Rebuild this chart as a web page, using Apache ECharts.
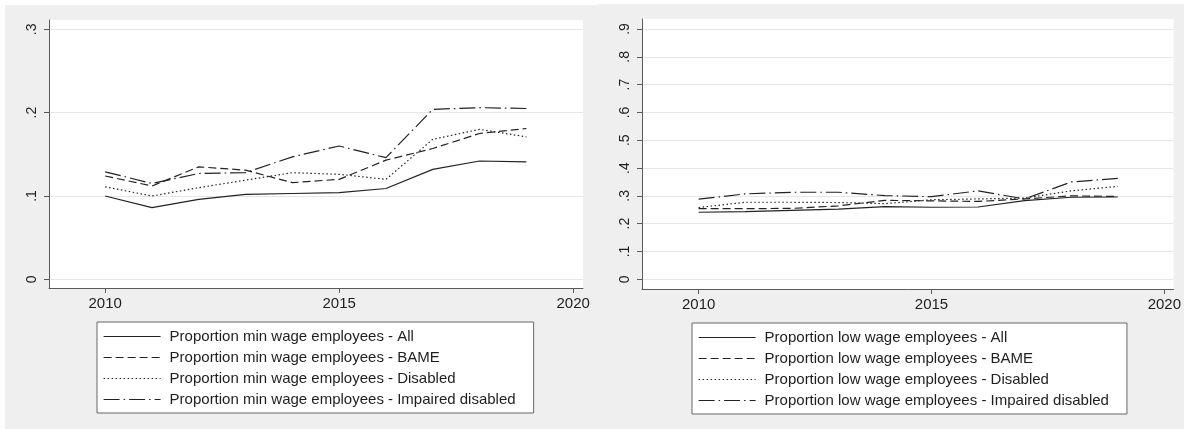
<!DOCTYPE html>
<html>
<head>
<meta charset="utf-8">
<script src="https://cdn.jsdelivr.net/npm/echarts@6/dist/echarts.min.js"></script>
<style>
  html, body { margin: 0; padding: 0; background: #fff; }
  .panel { position: absolute; background: #efefef; }
  #chart { position: absolute; left: 0; top: 0; width: 1184px; height: 429px; }
</style>
</head>
<body>
<div class="panel" style="left:5px;top:5px;width:593px;height:424px"></div>
<div class="panel" style="left:598px;top:4px;width:586px;height:425px"></div>
<div id="chart"></div>
<script>
  const years = [2010, 2011, 2012, 2013, 2014, 2015, 2016, 2017, 2018, 2019]
  const xTicks = [2010, 2015, 2020]
  const minTicks = [0, 0.1, 0.2, 0.3]
  const lowTicks = [0, 0.1, 0.2, 0.3, 0.4, 0.5, 0.6, 0.7, 0.8, 0.9]

  // minimum wage shares (left panel)
  const minAll = [0.100, 0.086, 0.096, 0.102, 0.103, 0.104, 0.109, 0.132, 0.142, 0.141]
  const minBame = [0.124, 0.112, 0.135, 0.131, 0.116, 0.120, 0.143, 0.157, 0.175, 0.181]
  const minDisabled = [0.111, 0.100, 0.110, 0.119, 0.128, 0.126, 0.120, 0.168, 0.180, 0.171]
  const minImpaired = [0.129, 0.115, 0.127, 0.128, 0.147, 0.160, 0.146, 0.204, 0.206, 0.205]

  // low wage shares (right panel)
  const lowAll = [0.241, 0.243, 0.248, 0.252, 0.261, 0.259, 0.260, 0.283, 0.295, 0.296]
  const lowBame = [0.254, 0.254, 0.255, 0.264, 0.284, 0.282, 0.280, 0.289, 0.300, 0.298]
  const lowDisabled = [0.258, 0.277, 0.277, 0.276, 0.272, 0.286, 0.289, 0.292, 0.318, 0.334]
  const lowImpaired = [0.288, 0.307, 0.313, 0.313, 0.301, 0.297, 0.318, 0.289, 0.350, 0.363]

  const groups = ['All', 'BAME', 'Disabled', 'Impaired disabled']
  const dashes = ['solid', [8, 4], [1.5, 2.5], [16, 4, 1.5, 4]]

  const ink = '#1e1e1e'
  const axisColor = '#5a5a5a'
  const fontFamily = '"Liberation Sans", Arial, sans-serif'

  const pairs = vals => vals.map((v, i) => [years[i], v])
  const yFmt = v => (v === 0 ? '0' : String(+v.toFixed(1)).replace(/^0/, ''))

  function makeX (gridIndex, min, max) {
    return {
      type: 'value',
      gridIndex,
      min,
      max,
      axisLine: { onZero: false, lineStyle: { color: axisColor, width: 1 } },
      axisTick: { customValues: xTicks, length: 5, lineStyle: { color: axisColor } },
      axisLabel: { customValues: xTicks, margin: 8, color: ink, fontSize: 15, fontFamily, formatter: v => String(v) },
      splitLine: { show: false }
    }
  }

  function makeY (gridIndex, min, max, ticks) {
    return {
      type: 'value',
      gridIndex,
      min,
      max,
      axisLine: { show: true, onZero: false, lineStyle: { color: axisColor, width: 1 } },
      axisTick: { show: true, customValues: ticks, length: 5, lineStyle: { color: axisColor } },
      axisLabel: { customValues: ticks, rotate: 90, margin: 10, color: ink, fontSize: 14, fontFamily, formatter: yFmt },
      splitLine: { show: true, lineStyle: { color: '#e6e6e6', width: 1 } }
    }
  }

  function makeSeries (prefix, sets, idx) {
    return sets.map((vals, k) => ({
      name: prefix + groups[k],
      type: 'line',
      xAxisIndex: idx,
      yAxisIndex: idx,
      data: pairs(vals),
      symbol: 'none',
      animation: false,
      lineStyle: { color: '#222', width: 1.2, type: dashes[k] },
      itemStyle: { color: '#222' }
    }))
  }

  const leftSeries = makeSeries('Proportion min wage employees - ', [minAll, minBame, minDisabled, minImpaired], 0)
  const rightSeries = makeSeries('Proportion low wage employees - ', [lowAll, lowBame, lowDisabled, lowImpaired], 1)

  function makeLegend (names, left, top) {
    return {
      orient: 'vertical',
      left,
      top,
      data: names,
      itemWidth: 57,
      itemHeight: 14,
      itemGap: 6,
      padding: [7, 18, 6, 6],
      backgroundColor: '#fff',
      borderColor: '#666',
      borderWidth: 1,
      borderRadius: 0,
      selectedMode: false,
      itemStyle: { opacity: 0 },
      lineStyle: { width: 1.2 },
      textStyle: { color: ink, fontSize: 15, fontFamily, padding: [0, 0, 0, 4] }
    }
  }

  const chart = echarts.init(document.getElementById('chart'), null, { renderer: 'canvas' })
  chart.setOption({
    backgroundColor: 'transparent',
    animation: false,
    grid: [
      { left: 49, top: 20, width: 534, height: 268, show: true, backgroundColor: '#fff', borderWidth: 0 },
      { left: 642, top: 19, width: 535, height: 270, show: true, backgroundColor: '#fff', borderWidth: 0 }
    ],
    xAxis: [makeX(0, 2008.8, 2020.21), makeX(1, 2008.784, 2020.198)],
    yAxis: [makeY(0, -0.0104, 0.3112, minTicks), makeY(1, -0.0349, 0.936, lowTicks)],
    legend: [
      makeLegend(leftSeries.map(s => s.name), 97, 322),
      makeLegend(rightSeries.map(s => s.name), 692, 323)
    ],
    series: leftSeries.concat(rightSeries)
  })
</script>
</body>
</html>
